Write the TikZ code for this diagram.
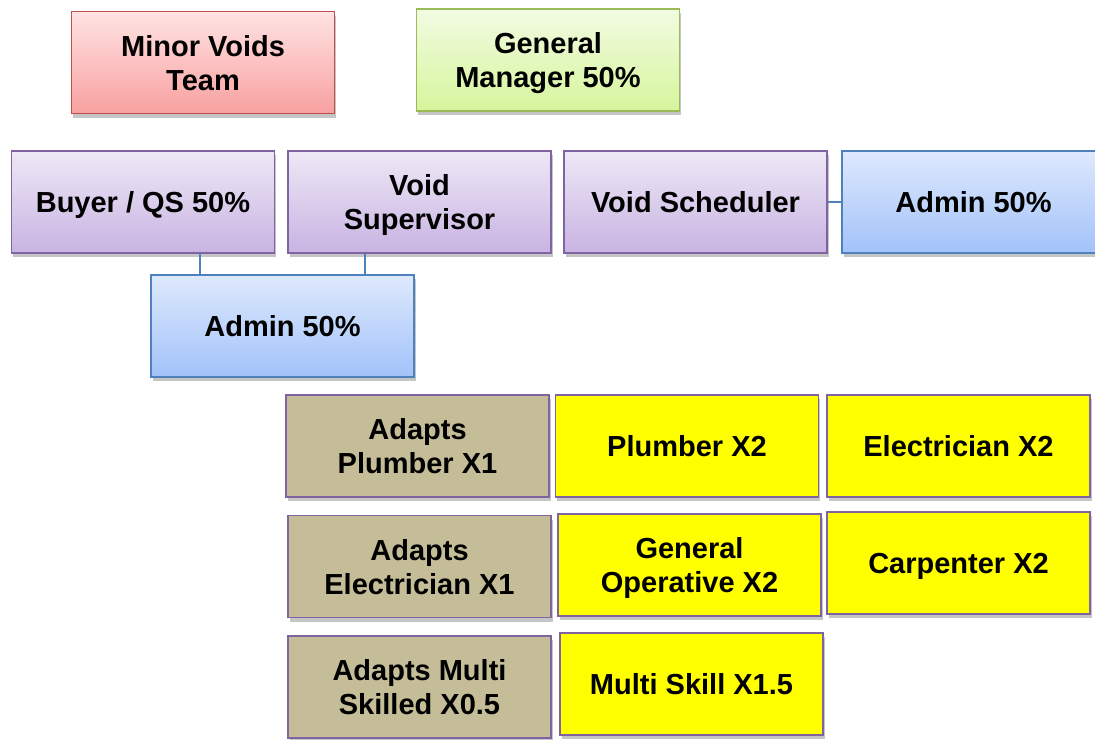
\documentclass[tikz,border=0pt]{standalone}
\usepackage{fontspec}
\setmainfont{Liberation Sans}
\usetikzlibrary{shadows}
\definecolor{redB}{HTML}{C0504D}
\definecolor{redT}{HTML}{FFE3E3}
\definecolor{redD}{HTML}{F8A0A0}
\definecolor{grnB}{HTML}{9BBB59}
\definecolor{grnT}{HTML}{F2FBE2}
\definecolor{grnD}{HTML}{D6F59C}
\definecolor{purB}{HTML}{8064A2}
\definecolor{purT}{HTML}{EEE8F6}
\definecolor{purD}{HTML}{C8B3E2}
\definecolor{bluB}{HTML}{4F81BD}
\definecolor{bluT}{HTML}{DEE9FD}
\definecolor{bluD}{HTML}{A2C2F9}
\definecolor{tan}{HTML}{C4BD97}
\definecolor{yel}{HTML}{FFFF00}
\tikzset{
  box/.style={rectangle, minimum width=263pt, minimum height=102pt, line width=1.3pt,
    align=center, text=black, font=\fontsize{29}{34}\selectfont\bfseries, inner sep=2pt,
    text depth=0pt,
    drop shadow={opacity=0.45, shadow xshift=1.5pt, shadow yshift=-4pt}},
  redbox/.style={box, draw=redB, top color=redT, bottom color=redD},
  grnbox/.style={box, draw=grnB, top color=grnT, bottom color=grnD},
  purbox/.style={box, draw=purB, top color=purT, bottom color=purD},
  blubox/.style={box, draw=bluB, top color=bluT, bottom color=bluD},
  tanbox/.style={box, draw=purB, fill=tan},
  yelbox/.style={box, draw=purB, fill=yel},
  conn/.style={draw=bluB, line width=1.2pt}
}
\begin{document}
\begin{tikzpicture}[x=1pt,y=-1pt]
\clip (0,0) rectangle (1095,739);
\fill[white] (0,0) rectangle (1095,739);
\node[redbox] (mv) at (203,62.5) {Minor Voids\\Team};
\node[grnbox] (gm) at (548,60) {General\\Manager 50\%};
\node[purbox] (bq) at (143,202) {Buyer / QS 50\%};
\node[purbox] (vs) at (419.5,202) {Void\\Supervisor};
\node[purbox] (vsc) at (695.5,202) {Void Scheduler};
\node[blubox] (ad1) at (973.5,202) {Admin 50\%};
\node[blubox] (ad2) at (282.5,326) {Admin 50\%};
\node[tanbox] (ap) at (417.5,446) {Adapts\\Plumber X1};
\node[yelbox] (p2) at (687,446) {Plumber X2};
\node[yelbox] (e2) at (958.5,446) {Electrician X2};
\node[tanbox] (ae) at (419.5,566.5) {Adapts\\Electrician X1};
\node[yelbox] (go) at (689.5,565) {General\\Operative X2};
\node[yelbox] (c2) at (958.5,563) {Carpenter X2};
\node[tanbox] (am) at (419.5,687) {Adapts Multi\\Skilled X0.5};
\node[yelbox] (ms) at (691.5,684) {Multi Skill X1.5};
\draw[conn] (bq.south -| 200,0) -- (ad2.north -| 200,0);
\draw[conn] (vs.south -| 365,0) -- (ad2.north -| 365,0);
\draw[conn] (vsc.east) -- (ad1.west);
\end{tikzpicture}
\end{document}
